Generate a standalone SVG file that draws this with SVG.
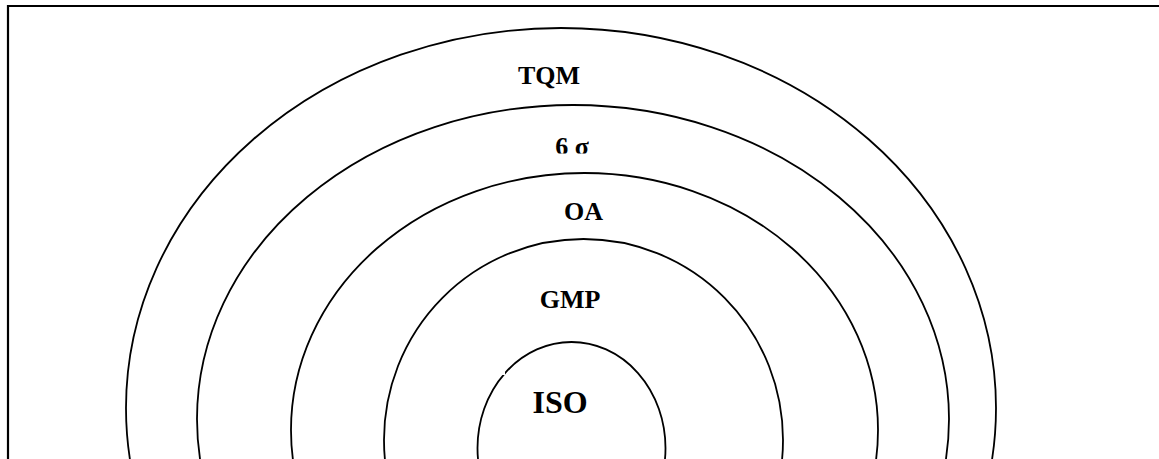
<svg xmlns="http://www.w3.org/2000/svg" width="1159" height="459" viewBox="0 0 1159 459">
<style>
.ring{fill:none;stroke:#000;stroke-width:1.8}
.lbl{font-family:"Liberation Serif","Times New Roman",serif;font-weight:bold;font-size:26px;fill:#000;text-anchor:middle}
.frame{fill:none;stroke:#000;stroke-width:2.2}
</style>
<defs>
<clipPath id="clipSigma"><rect x="540" y="125" width="70" height="28.5"/></clipPath>
</defs>
<rect x="0" y="0" width="1159" height="459" fill="#fff"/>
<path class="frame" d="M8,459 L8,6 L1159,6"/>
<g id="tqm">
<ellipse class="ring" cx="561" cy="408" rx="435" ry="380"/>
<text class="lbl" x="549" y="84">TQM</text>
</g>
<g id="six-sigma">
<ellipse class="ring" cx="573" cy="419" rx="376" ry="314"/>
<text class="lbl" x="572" y="155" clip-path="url(#clipSigma)">6 σ</text>
</g>
<g id="oa">
<ellipse class="ring" cx="584.5" cy="430" rx="293.5" ry="257"/>
<text class="lbl" x="583.5" y="220">OA</text>
</g>
<g id="gmp">
<ellipse class="ring" cx="583.5" cy="440" rx="199.5" ry="201"/>
<text class="lbl" x="570" y="308">GMP</text>
</g>
<g id="iso">
<ellipse class="ring" cx="571.5" cy="448" rx="94" ry="106"/>
<rect x="500" y="369" width="5" height="6" fill="#fff"/>
<text class="lbl" x="560" y="413" style="font-size:32px">ISO</text>
</g>
<g id="connectors"></g>
</svg>
